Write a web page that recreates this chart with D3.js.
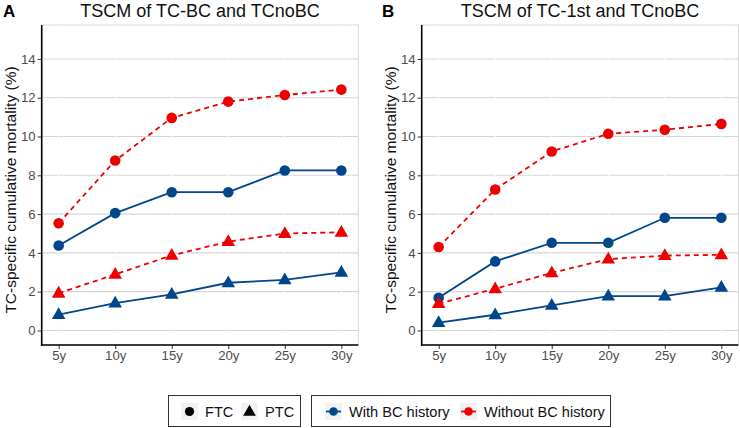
<!DOCTYPE html>
<html><head><meta charset="utf-8">
<script src="https://cdn.jsdelivr.net/npm/d3@7"></script>
<style>body{margin:0;background:#fff;} svg{display:block;font-family:"Liberation Sans",Arial,sans-serif;}</style>
</head><body><svg id="c" width="740" height="428"></svg>
<script>
const years = ["5y","10y","15y","20y","25y","30y"];
const yTicks = [0,2,4,6,8,10,12,14];
const panelLetters = ["A","B"];
const panelTitles = ["TSCM of TC-BC and TCnoBC","TSCM of TC-1st and TCnoBC"];
// Panel A
const aFTCwith    = [4.38,6.05,7.13,7.13,8.25,8.25];
const aFTCwithout = [5.53,8.76,10.96,11.80,12.14,12.42];
const aPTCwith    = [0.82,1.41,1.86,2.46,2.61,3.00];
const aPTCwithout = [1.92,2.89,3.87,4.58,5.00,5.06];
// Panel B
const bFTCwith    = [1.69,3.56,4.52,4.52,5.81,5.81];
const bFTCwithout = [4.30,7.27,9.23,10.14,10.35,10.65];
const bPTCwith    = [0.40,0.81,1.29,1.77,1.77,2.22];
const bPTCwithout = [1.38,2.15,2.97,3.68,3.86,3.90];
const histLabels = ["With BC history","Without BC history"];
const typeLabels = ["FTC","PTC"];

const BLUE="#00468B", RED="#ED0000";
const svg=d3.select("#c");
const y=d3.scaleLinear().domain([-0.75,15.75]).range([345,25]);

const panels=[
  {x0:41.7,x1:358.3,letterX:3,series:[
    {v:aFTCwith,c:BLUE,dash:null,shape:"circle"},
    {v:aPTCwith,c:BLUE,dash:null,shape:"tri"},
    {v:aFTCwithout,c:RED,dash:"5,4",shape:"circle"},
    {v:aPTCwithout,c:RED,dash:"5,4",shape:"tri"}]},
  {x0:421.7,x1:738.3,letterX:382,series:[
    {v:bFTCwith,c:BLUE,dash:null,shape:"circle"},
    {v:bPTCwith,c:BLUE,dash:null,shape:"tri"},
    {v:bFTCwithout,c:RED,dash:"5,4",shape:"circle"},
    {v:bPTCwithout,c:RED,dash:"5,4",shape:"tri"}]}
];
const triPath=d3.symbol().type(d3.symbolTriangle).size(80)();

panels.forEach((p,i)=>{
  const x=d3.scalePoint().domain(years).range([p.x0,p.x1]).padding(0.3);
  const g=svg.append("g");
  g.append("rect").attr("x",p.x0).attr("y",25).attr("width",p.x1-p.x0).attr("height",320)
    .attr("fill","none").attr("stroke","#d9d9d9").attr("stroke-width",1);
  g.selectAll(".hg").data(yTicks).join("line")
    .attr("x1",p.x0).attr("x2",p.x1).attr("y1",d=>y(d)).attr("y2",d=>y(d))
    .attr("stroke","#d6d6d6").attr("stroke-width",1.1);
  g.selectAll(".vg").data(years).join("line")
    .attr("x1",d=>x(d)).attr("x2",d=>x(d)).attr("y1",25).attr("y2",345)
    .attr("stroke","#ffffff").attr("stroke-width",1);
  const ya=g.append("g").attr("transform",`translate(${p.x0},0)`)
    .call(d3.axisLeft(y).tickValues(yTicks).tickSize(4).tickPadding(2));
  ya.select(".domain").remove();
  ya.selectAll("line").attr("stroke","#333");
  ya.selectAll("text").attr("fill","#4d4d4d").style("font-size","13.2px").style("font-family","Liberation Sans, Arial, sans-serif");
  const xa=g.append("g").attr("transform","translate(0,345)")
    .call(d3.axisBottom(x).tickSize(4).tickPadding(2));
  xa.select(".domain").remove();
  xa.selectAll("line").attr("stroke","#333");
  xa.selectAll("text").attr("fill","#4d4d4d").style("font-size","13.2px").style("font-family","Liberation Sans, Arial, sans-serif");
  g.append("line").attr("x1",p.x0).attr("x2",p.x0).attr("y1",25).attr("y2",345.8).attr("stroke","#000").attr("stroke-width",1.6);
  g.append("line").attr("x1",p.x0-0.8).attr("x2",p.x1).attr("y1",345).attr("y2",345).attr("stroke","#000").attr("stroke-width",1.6);
  svg.append("text").attr("x",(p.x0+p.x1)/2).attr("y",17).attr("text-anchor","middle")
    .style("font-size","18px").attr("fill","#111").text(panelTitles[i]);
  svg.append("text").attr("x",p.letterX).attr("y",17).style("font-size","17px").style("font-weight","bold").text(panelLetters[i]);
  svg.append("text").attr("transform",`translate(${p.x0-26},190) rotate(-90)`).attr("text-anchor","middle")
    .style("font-size","15.5px").attr("fill","#111").text("TC-specific cumulative mortality (%)");
  const line=d3.line().x((d,j)=>x(years[j])).y(d=>y(d));
  p.series.forEach(s=>{
    g.append("path").attr("d",line(s.v)).attr("fill","none").attr("stroke",s.c)
      .attr("stroke-width",1.8).attr("stroke-dasharray",s.dash);
  });
  p.series.forEach(s=>{
    if(s.shape==="circle"){
      g.selectAll(null).data(s.v).join("circle").attr("cx",(d,j)=>x(years[j])).attr("cy",d=>y(d)).attr("r",5.3).attr("fill",s.c);
    } else {
      g.selectAll(null).data(s.v).join("path").attr("d",triPath)
        .attr("transform",(d,j)=>`translate(${x(years[j])},${y(d)+0.5})`).attr("fill",s.c);
    }
  });
});

const lg=svg.append("g").style("font-size","14.6px");
lg.append("rect").attr("x",168.5).attr("y",395.5).attr("width",132).attr("height",31).attr("fill","#fff").attr("stroke","#333").attr("stroke-width",1);
lg.append("rect").attr("x",311.5).attr("y",395.5).attr("width",299).attr("height",31).attr("fill","#fff").attr("stroke","#333").attr("stroke-width",1);
const keyBg="#f2f2f2";
[[181,typeLabels[0],"circle"],[241,typeLabels[1],"tri"]].forEach(([kx,lab,sh])=>{
  lg.append("rect").attr("x",kx).attr("y",403).attr("width",17).attr("height",17).attr("fill",keyBg);
  if(sh==="circle") lg.append("circle").attr("cx",kx+8.5).attr("cy",411.5).attr("r",4.6).attr("fill","#000");
  else lg.append("path").attr("d",d3.symbol().type(d3.symbolTriangle).size(70)()).attr("transform",`translate(${kx+8.5},${412})`).attr("fill","#000");
  lg.append("text").attr("x",kx+24).attr("y",417).attr("fill","#111").text(lab);
});
[[325,histLabels[0],BLUE],[460,histLabels[1],RED]].forEach(([kx,lab,c])=>{
  lg.append("rect").attr("x",kx).attr("y",403).attr("width",17).attr("height",17).attr("fill",keyBg);
  lg.append("line").attr("x1",kx+1).attr("x2",kx+16).attr("y1",411.5).attr("y2",411.5).attr("stroke",c).attr("stroke-width",1.8);
  lg.append("circle").attr("cx",kx+8.5).attr("cy",411.5).attr("r",4.3).attr("fill",c);
  lg.append("text").attr("x",kx+24).attr("y",417).attr("fill","#111").text(lab);
});
</script></body></html>
